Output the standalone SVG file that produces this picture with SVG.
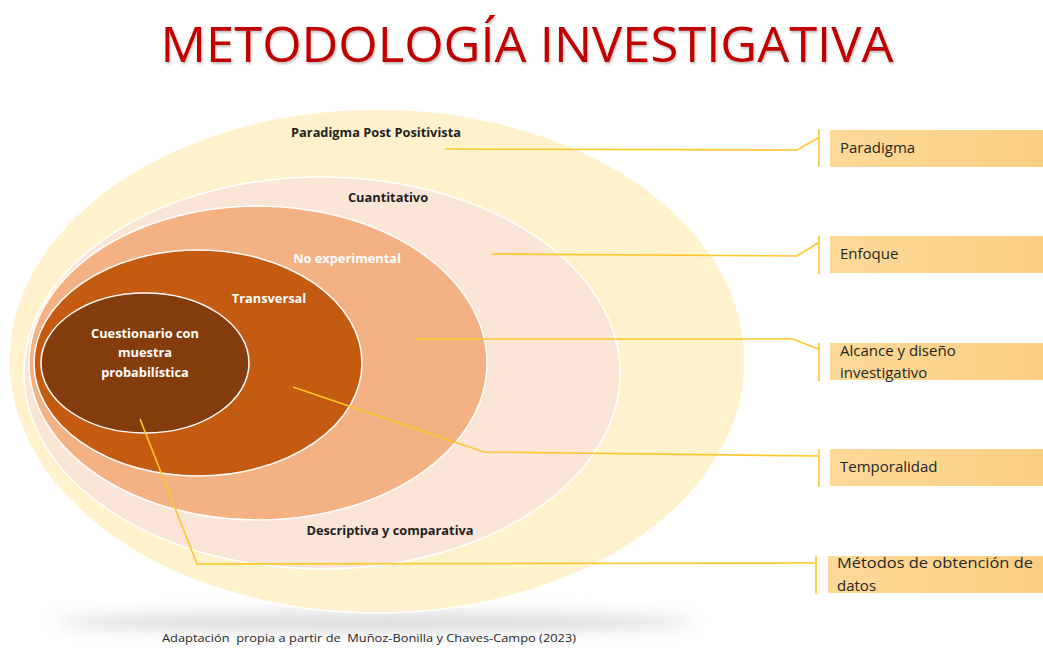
<svg xmlns="http://www.w3.org/2000/svg" width="1043" height="648" viewBox="0 0 1043 648">
  <defs>
    <linearGradient id="boxFill" x1="0" y1="0" x2="1" y2="0">
      <stop offset="0" stop-color="#FDDA98"/>
      <stop offset="1" stop-color="#FBCF82"/>
    </linearGradient>
    <filter id="soft" x="-20%" y="-200%" width="140%" height="500%">
      <feGaussianBlur stdDeviation="8"/>
    </filter>
    <filter id="titleShadow" x="-5%" y="-20%" width="110%" height="150%">
      <feDropShadow dx="1" dy="2" stdDeviation="1.2" flood-color="#000" flood-opacity="0.25"/>
    </filter>
  </defs>
  <style>
    .ring { stroke: #FFFFFF; stroke-width: 1.5; }
    .lbl { font-family: "Open Sans", "Noto Sans", sans-serif; font-weight: 700; font-size: 12.8px; text-anchor: middle; }
    .dark { fill: #1F1F1F; }
    .light { fill: #FFFFFF; }
    .box { fill: url(#boxFill); }
    .boxText { font-family: "Open Sans", "Noto Sans", sans-serif; font-size: 15px; fill: #262626; }
    .conn { fill: none; stroke: #FFC72C; stroke-width: 1.6; }
    .tick { fill: none; stroke: #FFD24D; stroke-width: 2; }
  </style>

  <rect width="1043" height="648" fill="#FFFFFF"/>

  <!-- heading -->
  <text x="527" y="62" text-anchor="middle" font-family="Open Sans, Noto Sans, sans-serif" font-size="50" fill="#C00000" textLength="733" lengthAdjust="spacingAndGlyphs" filter="url(#titleShadow)">METODOLOGÍA INVESTIGATIVA</text>

  <!-- ground shadow beneath the rings -->
  <ellipse cx="375" cy="622" rx="320" ry="9" fill="#BDBDBD" opacity="0.6" filter="url(#soft)"/>

  <!-- nested rings -->
  <g id="ring-paradigma">
    <ellipse class="ring" cx="377" cy="361" rx="368" ry="252" fill="#FFF2CC"/>
    <text class="lbl dark" x="376" y="137">Paradigma Post Positivista</text>
  </g>
  <g id="ring-enfoque">
    <ellipse class="ring" cx="322" cy="373" rx="298" ry="196" fill="#FBE5D6"/>
    <text class="lbl dark" x="388" y="202">Cuantitativo</text>
    <text class="lbl dark" x="390" y="535">Descriptiva y comparativa</text>
  </g>
  <g id="ring-diseno">
    <ellipse class="ring" cx="258" cy="363" rx="229" ry="157" fill="#F4B183"/>
    <text class="lbl light" x="347" y="263">No experimental</text>
  </g>
  <g id="ring-temporalidad">
    <ellipse class="ring" cx="198" cy="363" rx="164" ry="113" fill="#C55A11"/>
    <text class="lbl light" x="269" y="303">Transversal</text>
  </g>
  <g id="ring-metodos">
    <ellipse class="ring" cx="145" cy="363" rx="104" ry="70" fill="#843C0C"/>
    <text class="lbl light" x="145" y="338">Cuestionario con</text>
    <text class="lbl light" x="145" y="357">muestra</text>
    <text class="lbl light" x="145" y="377">probabilística</text>
  </g>

  <!-- leader lines -->
  <g id="connectors">
    <polyline class="conn" points="445,149 797,150 818,138"/>
    <polyline class="conn" points="492,254 797,256 818,243"/>
    <polyline class="conn" points="415,339 793,339 818,349"/>
    <polyline class="conn" points="293,387 484,452 818,456"/>
    <polyline class="conn" points="140,419 197,564 815,563"/>
    <line class="tick" x1="819" y1="129" x2="819" y2="167"/>
    <line class="tick" x1="819" y1="236" x2="819" y2="274"/>
    <line class="tick" x1="819" y1="343" x2="819" y2="381"/>
    <line class="tick" x1="819" y1="449" x2="819" y2="487"/>
    <line class="tick" x1="816" y1="556" x2="816" y2="594"/>
  </g>

  <!-- legend boxes -->
  <g id="box-paradigma">
    <rect class="box" x="830" y="130" width="213" height="37"/>
    <text class="boxText" x="840" y="153">Paradigma</text>
  </g>
  <g id="box-enfoque">
    <rect class="box" x="830" y="236" width="213" height="37"/>
    <text class="boxText" x="840" y="259">Enfoque</text>
  </g>
  <g id="box-alcance">
    <rect class="box" x="830" y="343" width="213" height="37"/>
    <text class="boxText" x="840" y="356">Alcance y diseño</text>
    <text class="boxText" x="840" y="378">investigativo</text>
  </g>
  <g id="box-temporalidad">
    <rect class="box" x="830" y="449" width="213" height="37"/>
    <text class="boxText" x="840" y="472">Temporalidad</text>
  </g>
  <g id="box-metodos">
    <rect class="box" x="828" y="556" width="215" height="37"/>
    <text class="boxText" x="837" y="568" textLength="196" lengthAdjust="spacingAndGlyphs">Métodos de obtención de</text>
    <text class="boxText" x="837" y="591">datos</text>
  </g>

  <!-- source note -->
  <text x="162" y="642" font-family="Open Sans, Noto Sans, sans-serif" font-size="11.5" fill="#262626" textLength="414" lengthAdjust="spacingAndGlyphs" xml:space="preserve">Adaptación  propia a partir de  Muñoz-Bonilla y Chaves-Campo (2023)</text>
</svg>
